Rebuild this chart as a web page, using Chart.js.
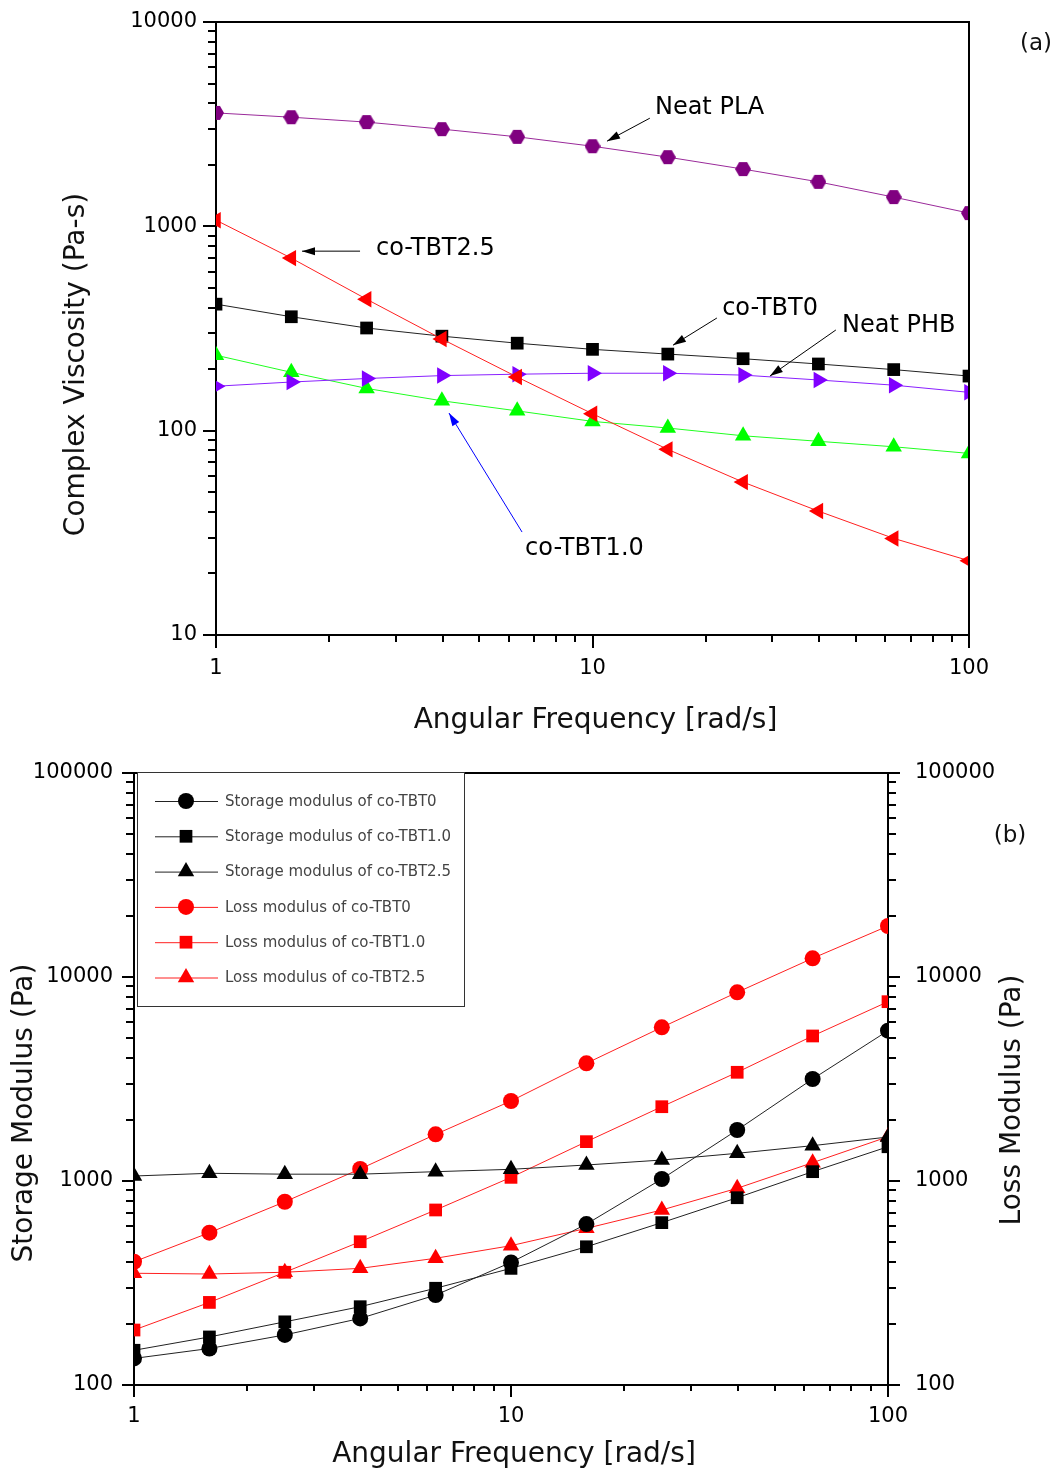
<!DOCTYPE html>
<html>
<head>
<meta charset="utf-8">
<script src="https://cdn.jsdelivr.net/npm/chart.js@4.4.1/dist/chart.umd.min.js"></script>
<style>
  html, body { margin: 0; padding: 0; background: #fff; }
  #wrap { position: relative; width: 1059px; height: 1470px; }
  .box { position: absolute; left: 0; width: 1059px; }
  #boxA { top: 0; height: 745px; }
  #boxB { top: 745px; height: 725px; }
</style>
</head>
<body>
<div id="wrap">
  <div class="box" id="boxA"><canvas id="chartA"></canvas></div>
  <div class="box" id="boxB"><canvas id="chartB"></canvas></div>
</div>
<script>
// frequencies (rad/s), 5 points per decade
const freq = [1, 1.585, 2.512, 3.981, 6.31, 10, 15.85, 25.12, 39.81, 63.1, 100];
const freqTicks = [1, 10, 100];

// (a) complex viscosity (Pa-s)
const neatPLA = [3590, 3420, 3236, 2990, 2742, 2466, 2181, 1906, 1651, 1390, 1161];
const coTBT25 = [1072, 699, 440, 281, 183, 121, 81, 56, 40.4, 29.7, 23.1];
const coTBT0 = [416, 361, 318, 290, 268, 250, 237, 225, 212, 199, 185];
const neatPHB = [165, 173, 180, 186, 189, 191, 191, 187, 177, 167, 154];
const coTBT10 = [234, 193, 161, 140, 125, 111, 103, 94.4, 88.7, 83.4, 77.4];
const viscTicks = [10, 100, 1000, 10000];

// (b) storage / loss modulus (Pa)
const storage0 = [135, 151, 176, 212, 276, 399, 615, 1023, 1778, 3162, 5454];
const storage10 = [148, 172, 204, 242, 298, 373, 476, 625, 828, 1111, 1472];
const storage25 = [1058, 1091, 1080, 1080, 1111, 1141, 1198, 1267, 1367, 1490, 1643];
const loss0 = [402, 558, 791, 1146, 1693, 2467, 3776, 5666, 8414, 12350, 17780];
const loss10 = [186, 254, 357, 504, 721, 1042, 1559, 2313, 3411, 5139, 7568];
const loss25 = [353, 350, 357, 373, 418, 482, 586, 721, 921, 1230, 1648];
const modTicks = [100, 1000, 10000, 100000];

const FONT = '"DejaVu Sans", Verdana, sans-serif';

function pts(vals) {
  return freq.map((f, i) => ({ x: f, y: vals[i] }));
}

// hexagon marker (Chart.js has no built-in one)
function hexagon(color, size) {
  const c = document.createElement('canvas');
  c.width = size; c.height = size;
  const g = c.getContext('2d');
  const r = size / 2;
  g.fillStyle = color;
  g.beginPath();
  for (let k = 0; k < 6; k++) {
    const a = Math.PI / 3 * k;
    g.lineTo(r + r * Math.cos(a), r + r * Math.sin(a));
  }
  g.closePath();
  g.fill();
  return c;
}

function serie(label, vals, color, style, radius, rot, axis) {
  return {
    label: label,
    data: pts(vals),
    borderColor: color.line,
    backgroundColor: color.fill,
    borderWidth: 1,
    pointStyle: style,
    pointRadius: radius,
    pointRotation: rot || 0,
    pointBorderWidth: 0,
    pointBackgroundColor: color.fill,
    tension: 0,
    fill: false,
    yAxisID: axis || 'y'
  };
}

function logAxis(min, max, ticks, fitFn, pad, extra) {
  return Object.assign({
    type: 'logarithmic',
    min: min,
    max: max,
    afterBuildTicks: s => { s.ticks = ticks.map(v => ({ value: v })); },
    afterFit: s => {
      fitFn(s);
      s.paddingTop = 0; s.paddingBottom = 0;
      s.paddingLeft = 0; s.paddingRight = 0;
    },
    grid: { display: false, drawTicks: false, tickLength: 0 },
    border: { display: true, color: '#000', width: 2 },
    ticks: {
      padding: pad,
      color: '#000',
      font: { family: FONT, size: 21 },
      autoSkip: false,
      maxRotation: 0,
      callback: v => String(v)
    }
  }, extra || {});
}

// minor/major tick marks on log axes + frame lines
function marksPlugin(axes, frame) {
  return {
    id: 'axisMarks',
    afterDraw(chart) {
      const { ctx, chartArea: a } = chart;
      ctx.save();
      ctx.strokeStyle = '#000';
      ctx.lineWidth = 2;
      ctx.beginPath();
      axes.forEach(ax => {
        const s = chart.scales[ax.id];
        for (let d = s.min; d < s.max * 1.0001; d *= 10) {
          for (let k = 1; k <= 9; k++) {
            const v = d * k;
            if (v > s.max * 1.0001) break;
            const len = k === 1 ? ax.major : ax.minor;
            const p = Math.round(s.getPixelForValue(v));
            if (ax.side === 'bottom') { ctx.moveTo(p, a.bottom); ctx.lineTo(p, a.bottom + len); }
            else if (ax.side === 'left') { ctx.moveTo(a.left, p); ctx.lineTo(a.left - len, p); }
            else { ctx.moveTo(a.right, p); ctx.lineTo(a.right + len, p); }
          }
        }
      });
      if (frame.includes('top')) { ctx.moveTo(a.left, a.top); ctx.lineTo(a.right + 1, a.top); }
      if (frame.includes('right')) { ctx.moveTo(a.right, a.top); ctx.lineTo(a.right, a.bottom); }
      ctx.stroke();
      ctx.restore();
    }
  };
}

function titlesPlugin(list) {
  return {
    id: 'axisTitles',
    afterDraw(chart) {
      const { ctx, chartArea: a } = chart;
      list.forEach(t => {
        const x = (t.ref === 'left' ? a.left : t.ref === 'right' ? a.right : (a.left + a.right) / 2) + t.dx;
        const y = (t.vref === 'bottom' ? a.bottom : t.vref === 'top' ? a.top : (a.top + a.bottom) / 2) + t.dy;
        ctx.save();
        ctx.translate(x, y);
        ctx.rotate((t.rot || 0) * Math.PI / 180);
        ctx.fillStyle = '#111';
        ctx.font = t.size + 'px ' + FONT;
        ctx.textAlign = 'center';
        ctx.textBaseline = 'middle';
        ctx.fillText(t.text, 0, 0);
        ctx.restore();
      });
    }
  };
}

// labels with arrows in (a), placed in data space
function notesPlugin(notes) {
  return {
    id: 'notes',
    afterDraw(chart) {
      const { ctx, scales: { x, y } } = chart;
      ctx.save();
      notes.forEach(n => {
        const x1 = x.getPixelForValue(n.from[0]), y1 = y.getPixelForValue(n.from[1]);
        const x2 = x.getPixelForValue(n.to[0]), y2 = y.getPixelForValue(n.to[1]);
        ctx.strokeStyle = n.color;
        ctx.fillStyle = n.color;
        ctx.lineWidth = 1;
        ctx.beginPath();
        ctx.moveTo(x1, y1);
        ctx.lineTo(x2, y2);
        ctx.stroke();
        const ang = Math.atan2(y2 - y1, x2 - x1);
        const L = 13, W = 4;
        ctx.beginPath();
        ctx.moveTo(x2, y2);
        ctx.lineTo(x2 - L * Math.cos(ang) + W * Math.sin(ang), y2 - L * Math.sin(ang) - W * Math.cos(ang));
        ctx.lineTo(x2 - L * Math.cos(ang) - W * Math.sin(ang), y2 - L * Math.sin(ang) + W * Math.cos(ang));
        ctx.closePath();
        ctx.fill();
        ctx.fillStyle = '#000';
        ctx.font = '24px ' + FONT;
        ctx.textAlign = 'left';
        ctx.textBaseline = 'middle';
        ctx.fillText(n.text, x.getPixelForValue(n.at[0]), y.getPixelForValue(n.at[1]));
      });
      ctx.restore();
    }
  };
}

// boxed legend in upper-left of (b)
function legendPlugin() {
  return {
    id: 'boxLegend',
    afterDraw(chart) {
      const { ctx, chartArea: a } = chart;
      const bx = a.left + 3, by = a.top - 1, bw = 327, bh = 234;
      ctx.save();
      ctx.fillStyle = '#fff';
      ctx.fillRect(bx, by, bw, bh);
      ctx.strokeStyle = '#333';
      ctx.lineWidth = 1;
      ctx.strokeRect(bx + 0.5, by + 0.5, bw, bh);
      chart.data.datasets.forEach((ds, i) => {
        const ry = by + 29 + i * 35.3;
        ctx.strokeStyle = ds.borderColor;
        ctx.lineWidth = 1;
        ctx.beginPath();
        ctx.moveTo(bx + 18, ry + 0.5);
        ctx.lineTo(bx + 81, ry + 0.5);
        ctx.stroke();
        ctx.fillStyle = ds.pointBackgroundColor;
        Chart.helpers.drawPoint(ctx, {
          pointStyle: ds.pointStyle, radius: ds.pointRadius,
          rotation: ds.pointRotation, borderWidth: 0
        }, bx + 49, ry);
        ctx.fillStyle = '#444';
        ctx.font = '15px ' + FONT;
        ctx.textAlign = 'left';
        ctx.textBaseline = 'middle';
        ctx.fillText(ds.label, bx + 88, ry + 1);
      });
      ctx.restore();
    }
  };
}

const black = { line: '#222', fill: '#000' };
const red = { line: '#ff2020', fill: '#ff0000' };

// ---------- (a) ----------
new Chart(document.getElementById('chartA'), {
  type: 'line',
  data: {
    datasets: [
      serie('Neat PLA', neatPLA, { line: '#9a2a9a', fill: '#800080' }, hexagon('#800080', 16), 8),
      serie('co-TBT2.5', coTBT25, red, 'triangle', 9.5, -90),
      serie('co-TBT0', coTBT0, black, 'rect', 9),
      serie('Neat PHB', neatPHB, { line: '#8a20ff', fill: '#8000ff' }, 'triangle', 9.5, 90),
      serie('co-TBT1.0', coTBT10, { line: '#20ff20', fill: '#00ff00' }, 'triangle', 9.5)
    ]
  },
  options: {
    responsive: true,
    maintainAspectRatio: false,
    animation: false,
    layout: { padding: { top: 22, right: 90, left: 0, bottom: 0 } },
    plugins: { legend: { display: false }, tooltip: { enabled: false } },
    scales: {
      x: logAxis(1, 100, freqTicks, s => { s.height = 110; }, 21),
      y: logAxis(10, 10000, viscTicks, s => { s.width = 216; }, 19)
    }
  },
  plugins: [
    marksPlugin([
      { id: 'x', side: 'bottom', major: 13, minor: 7 },
      { id: 'y', side: 'left', major: 13, minor: 8 }
    ], ['top', 'right']),
    titlesPlugin([
      { text: 'Complex Viscosity (Pa-s)', ref: 'left', dx: -139, vref: 'mid', dy: 36, rot: -90, size: 28 },
      { text: 'Angular Frequency [rad/s]', ref: 'center', dx: 3, vref: 'bottom', dy: 86, size: 28 },
      { text: '(a)', ref: 'right', dx: 67, vref: 'top', dy: 22, size: 23 }
    ]),
    notesPlugin([
      { text: 'Neat PLA', at: [14.65, 3786], from: [14.2, 3383], to: [10.93, 2612], color: '#000' },
      { text: 'co-TBT2.5', at: [2.66, 773], from: [2.413, 756], to: [1.692, 756], color: '#000' },
      { text: 'co-TBT0', at: [22.1, 394], from: [21.4, 356], to: [16.36, 262], color: '#000' },
      { text: 'Neat PHB', at: [46.0, 325], from: [44.3, 311], to: [29.6, 185], color: '#000' },
      { text: 'co-TBT1.0', at: [6.62, 26.3], from: [6.5, 31.9], to: [4.157, 122], color: '#0000ff' }
    ])
  ]
});

// ---------- (b) ----------
new Chart(document.getElementById('chartB'), {
  type: 'line',
  data: {
    datasets: [
      serie('Storage modulus of co-TBT0', storage0, black, 'circle', 8),
      serie('Storage modulus of co-TBT1.0', storage10, black, 'rect', 9),
      serie('Storage modulus of co-TBT2.5', storage25, black, 'triangle', 9.5),
      serie('Loss modulus of co-TBT0', loss0, red, 'circle', 8, 0, 'y2'),
      serie('Loss modulus of co-TBT1.0', loss10, red, 'rect', 9, 0, 'y2'),
      serie('Loss modulus of co-TBT2.5', loss25, red, 'triangle', 9.5, 0, 'y2')
    ]
  },
  options: {
    responsive: true,
    maintainAspectRatio: false,
    animation: false,
    layout: { padding: { top: 28, right: 0, left: 0, bottom: 0 } },
    plugins: { legend: { display: false }, tooltip: { enabled: false } },
    scales: {
      x: logAxis(1, 100, freqTicks, s => { s.height = 85; }, 19),
      y: logAxis(100, 100000, modTicks, s => { s.width = 134; }, 21),
      y2: logAxis(100, 100000, modTicks, s => { s.width = 171; }, 27, { position: 'right' })
    }
  },
  plugins: [
    marksPlugin([
      { id: 'x', side: 'bottom', major: 12, minor: 6 },
      { id: 'y', side: 'left', major: 12, minor: 8 },
      { id: 'y2', side: 'right', major: 12, minor: 8 }
    ], ['top']),
    titlesPlugin([
      { text: 'Storage Modulus (Pa)', ref: 'left', dx: -109, vref: 'mid', dy: 34, rot: -90, size: 28 },
      { text: 'Loss Modulus (Pa)', ref: 'right', dx: 125, vref: 'mid', dy: 21, rot: -90, size: 28 },
      { text: 'Angular Frequency [rad/s]', ref: 'center', dx: 3, vref: 'bottom', dy: 70, size: 28 },
      { text: '(b)', ref: 'right', dx: 122, vref: 'top', dy: 63, size: 23 }
    ]),
    legendPlugin()
  ]
});
</script>
</body>
</html>
